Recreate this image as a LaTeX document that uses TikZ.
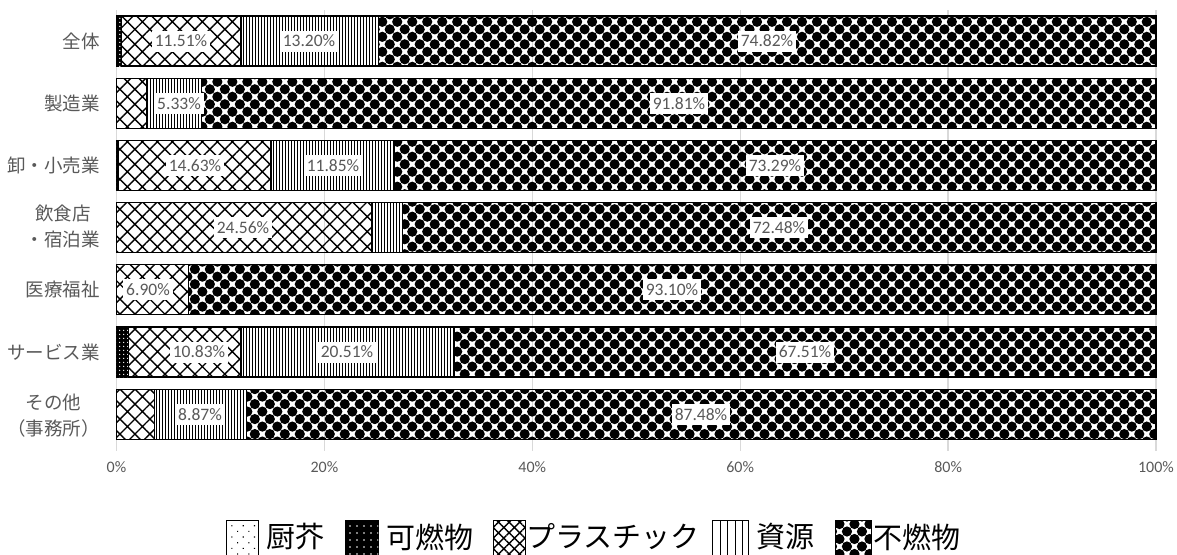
\documentclass[tikz,border=0pt]{standalone}
\usepackage{fontspec}
\setmainfont{Carlito}
\newfontfamily\jpfont{Noto Sans CJK JP}
\usetikzlibrary{patterns.meta}
\definecolor{labelgray}{HTML}{595959}
\definecolor{gridgray}{HTML}{D9D9D9}
\tikzset{
	seg/.style={draw=black, line width=1.1pt},
	kitchen/.style={seg, pattern={Dots[angle=45, distance=#1, radius=0.8pt]}},
	kitchen/.default=6pt,
	burnable/.style={seg, fill=black, postaction={pattern={Dots[distance=#1, radius=0.8pt]}, pattern color=white}},
	burnable/.default=4pt,
	plastic/.style={seg, pattern={Hatch[angle=45, distance=#1, line width=1.4pt]}},
	plastic/.default=10.6pt,
	resource/.style={seg, pattern={Lines[angle=90, distance=#1, line width=1pt]}},
	resource/.default=3pt,
	inert/.style={seg, pattern={Dots[angle=45, distance=10.6pt, radius=5.1pt]}},
	grid/.style={draw=gridgray, line width=1.3pt},
	catlabel/.style={anchor=east, align=center, inner sep=0pt, text=labelgray, font=\jpfont\fontsize{18.5}{26}\selectfont},
	vlabel/.style={fill=white, text=labelgray, inner xsep=3pt, inner ysep=0pt, minimum height=21pt, font=\fontsize{17.5}{19}\selectfont},
	ticklabel/.style={text=labelgray, inner sep=0pt, font=\fontsize{16}{18}\selectfont},
	keytext/.style={anchor=west, inner sep=0pt, font=\jpfont\fontsize{29}{32}\selectfont},
}

\begin{document}
\begin{tikzpicture}[x=1pt, y=-1pt]
	\useasboundingbox (0,0) rectangle (1177,554);
	\clip (0,0) rectangle (1177,554);

	\foreach \p in {0,20,...,100} {
		\draw[grid] (116.5+10.395*\p,10) -- (116.5+10.395*\p,451);
		\node[ticklabel] (tick-\p) at (116.5+10.395*\p,467) {\p\%};
	}

	\foreach \ya/\va/\vb/\vc/\vd/\ve in {41/0.07/0.40/11.51/13.20/74.82,
		103.2/0/0/2.86/5.33/91.81, 165.4/0.03/0.20/14.63/11.85/73.29,
		227.6/0/0/24.56/2.96/72.48, 289.8/0/0/6.90/0/93.10,
		352/0/1.15/10.83/20.51/67.51, 414.2/0/0/3.65/8.87/87.48} {
		\pgfmathsetmacro\xa{116.5+10.395*\va}
		\pgfmathsetmacro\xb{\xa+10.395*\vb}
		\pgfmathsetmacro\xc{\xb+10.395*\vc}
		\pgfmathsetmacro\xd{\xc+10.395*\vd}
		\path[kitchen] (116.5,\ya-25) rectangle (\xa,\ya+25);
		\path[burnable] (\xa,\ya-25) rectangle (\xb,\ya+25);
		\path[plastic] (\xb,\ya-25) rectangle (\xc,\ya+25);
		\path[resource] (\xc,\ya-25) rectangle (\xd,\ya+25);
		\path[inert] (\xd,\ya-25) rectangle (1156,\ya+25);
	}

	\foreach \nm/\xl/\yl/\tx in {all-pl/181/41/11.51, all-rs/309/41/13.20, all-in/767/41/74.82,
		mfg-rs/179/103.2/5.33, mfg-in/679/103.2/91.81,
		retail-pl/195/165.4/14.63, retail-rs/333/165.4/11.85, retail-in/775/165.4/73.29,
		food-pl/243/227.6/24.56, food-in/779/227.6/72.48,
		med-pl/148/289.8/6.90, med-in/672/289.8/93.10,
		svc-pl/199/352/10.83, svc-rs/347/352/20.51, svc-in/805/352/67.51,
		other-rs/200/414.2/8.87, other-in/701/414.2/87.48}
		\node[vlabel] (lab-\nm) at (\xl,\yl) {\tx\%};

	\node[catlabel] (cat-all) at (100,41) {全体};
	\node[catlabel] (cat-mfg) at (100,103.2) {製造業};
	\node[catlabel] (cat-retail) at (100,165.4) {卸・小売業};
	\node[catlabel] (cat-food) at (100,226) {飲食店\\・宿泊業};
	\node[catlabel] (cat-med) at (100,289.8) {医療福祉};
	\node[catlabel] (cat-svc) at (100,352) {サービス業};
	\node[catlabel] (cat-other) at (100,415.5) {その他\\（事務所）};

	\path[kitchen=8pt, line width=0.8pt] (226,520) rectangle (258,558);
	\node[keytext] (key-kitchen) at (266,537) {厨芥};
	\path[burnable=7pt, line width=0.8pt] (345,520) rectangle (378,558);
	\node[keytext] (key-burnable) at (386,537) {可燃物};
	\path[plastic=7.5pt, line width=0.8pt] (493,520) rectangle (525,558);
	\node[keytext] (key-plastic) at (526,537) {プラスチック};
	\path[resource=7.5pt, line width=0.8pt] (712,520) rectangle (748,558);
	\node[keytext] (key-resource) at (756,537) {資源};
	\path[inert, line width=0.8pt] (835,520) rectangle (871,558);
	\node[keytext] (key-inert) at (873,537) {不燃物};
\end{tikzpicture}
\end{document}
